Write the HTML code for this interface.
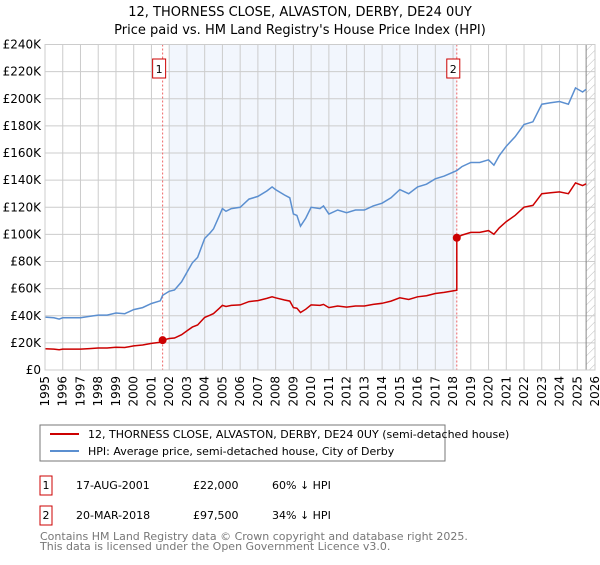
<!DOCTYPE html>
<html><head><meta charset="utf-8"><style>
body{margin:0;background:#fff;font-family:"Liberation Sans","DejaVu Sans",sans-serif}
svg text{font-family:"DejaVu Sans","Liberation Sans",sans-serif}
</style></head><body>
<svg id="c" width="600" height="560" xmlns="http://www.w3.org/2000/svg">
<text x="300" y="16" text-anchor="middle" font-size="13">12, THORNESS CLOSE, ALVASTON, DERBY, DE24 0UY</text>
<text x="300" y="34" text-anchor="middle" font-size="13">Price paid vs. HM Land Registry's House Price Index (HPI)</text>
<defs><pattern id="h" width="6" height="6" patternUnits="userSpaceOnUse" patternTransform="rotate(45)"><line x1="0" y1="0" x2="0" y2="6" stroke="#bbb" stroke-width="1"/></pattern></defs>
<g id="plot"></g>
<rect x="40" y="425" width="405" height="36" fill="#fff" stroke="#777"/>
<line x1="50" y1="434" x2="79" y2="434" stroke="#cc0000" stroke-width="2"/>
<text x="88" y="438" font-size="11">12, THORNESS CLOSE, ALVASTON, DERBY, DE24 0UY (semi-detached house)</text>
<line x1="50" y1="451" x2="79" y2="451" stroke="#5b8fd0" stroke-width="2"/>
<text x="88" y="455" font-size="11">HPI: Average price, semi-detached house, City of Derby</text>
<g font-size="11">
<rect x="40" y="476" width="12" height="19" fill="#fff" stroke="#cc0000"/>
<text x="46" y="489" text-anchor="middle">1</text>
<text x="76" y="489">17-AUG-2001</text><text x="193" y="489">£22,000</text><text x="272" y="489">60% ↓ HPI</text>
<rect x="40" y="506" width="12" height="19" fill="#fff" stroke="#cc0000"/>
<text x="46" y="519" text-anchor="middle">2</text>
<text x="76" y="519">20-MAR-2018</text><text x="193" y="519">£97,500</text><text x="272" y="519">34% ↓ HPI</text>
</g>
<text x="40" y="540" font-size="11" fill="#777">Contains HM Land Registry data © Crown copyright and database right 2025.</text>
<text x="40" y="550" font-size="11" fill="#777">This data is licensed under the Open Government Licence v3.0.</text>
</svg>
<script>
const hpiYears=[1995,1995.5,1995.8,1996,1997,1997.5,1998,1998.5,1999,1999.5,2000,2000.5,2001,2001.5,2001.63,2002,2002.3,2002.7,2003,2003.3,2003.6,2004,2004.3,2004.5,2004.8,2005,2005.2,2005.5,2006,2006.5,2007,2007.5,2007.8,2008,2008.5,2008.8,2009,2009.2,2009.4,2009.7,2010,2010.5,2010.7,2011,2011.5,2012,2012.5,2013,2013.5,2014,2014.5,2015,2015.5,2016,2016.5,2017,2017.5,2018.21,2018.5,2019,2019.5,2020,2020.3,2020.6,2021,2021.5,2022,2022.5,2023,2023.5,2024,2024.5,2024.9,2025.3,2025.5];
const hpiValues=[39,38.5,37.5,38.5,38.5,39.5,40.5,40.5,42,41.5,44.5,46,49,51,55,58,59,65,72,79,83,97,101,104,113,119,117,119,120,126,128,132,135,133,129,127,115,114,106,112,120,119,121,115,118,116,118,118,121,123,127,133,130,135,137,141,143,147,150,153,153,155,151,158,165,172,181,183,196,197,198,196,208,205,207];
const saleYears=[2001.63,2018.21];
const salePrices=[22,97.5];
const yTicks=[0,20,40,60,80,100,120,140,160,180,200,220,240];
const xTicks=[1995,1996,1997,1998,1999,2000,2001,2002,2003,2004,2005,2006,2007,2008,2009,2010,2011,2012,2013,2014,2015,2016,2017,2018,2019,2020,2021,2022,2023,2024,2025,2026];
const X0=45,X1=595,Y0=370,Y1=44.5;
const sx=y=>X0+(y-1995)/(2026-1995)*(X1-X0);
const sy=v=>Y0-v/240*(Y0-Y1);
const NS='http://www.w3.org/2000/svg';
const g=document.getElementById('plot');
function mk(t,a){const e=document.createElementNS(NS,t);for(const k in a)e.setAttribute(k,a[k]);g.appendChild(e);return e;}
let e;
e=mk('rect',{x:sx(saleYears[0])+7,y:Y1,width:sx(saleYears[1])-sx(saleYears[0])-7,height:Y0-Y1,fill:'#f2f6fd'});


e=mk('rect',{x:sx(2025.5),y:Y1,width:X1-sx(2025.5),height:Y0-Y1,fill:'url(#h)'});


yTicks.forEach(v=>{
 e=mk('line',{x1:X0,x2:X1,y1:sy(v),y2:sy(v),stroke:'#ccc'});
 
 
 e=mk('text',{x:X0-4,y:sy(v)+4,'text-anchor':'end','font-size':12});
 e.textContent=v===0?'£0':'£'+v+'K';
 
 
});
xTicks.forEach(t=>{
 e=mk('line',{x1:sx(t),x2:sx(t),y1:Y1,y2:Y0,stroke:'#ccc'});
 
 
 e=mk('text',{x:0,y:0,'text-anchor':'end','font-size':12,transform:`translate(${sx(t)+4},${Y0+6}) rotate(-90)`});
 e.textContent=t;
 
 
});
e=mk('line',{x1:sx(2025.5),x2:sx(2025.5),y1:Y1,y2:Y0,stroke:'#888'});


saleYears.forEach((s,i)=>{
 e=mk('line',{x1:sx(s),x2:sx(s),y1:Y1,y2:Y0,stroke:'#e66','stroke-dasharray':'2,2'});
 
 
});
let d=hpiYears.map((y,i)=>(i?'L':'M')+sx(y).toFixed(1)+','+sy(hpiValues[i]).toFixed(1)).join('');
e=mk('path',{d:d,fill:'none',stroke:'#5b8fd0','stroke-width':1.5});


const hpiAt=y=>{for(let i=1;i<hpiYears.length;i++){if(y<=hpiYears[i]){const f=(y-hpiYears[i-1])/(hpiYears[i]-hpiYears[i-1]);return hpiValues[i-1]+f*(hpiValues[i]-hpiValues[i-1]);}}return hpiValues[hpiValues.length-1];};
const r0=salePrices[0]/hpiAt(saleYears[0]),r1=salePrices[1]/hpiAt(saleYears[1]);
let pts=[];
hpiYears.forEach((y,i)=>{
 if(y<saleYears[1])pts.push([y,hpiValues[i]*r0]);
 if(y===saleYears[1]||(i>0&&hpiYears[i-1]<saleYears[1]&&y>saleYears[1])){pts.push([saleYears[1],hpiAt(saleYears[1])*r0]);pts.push([saleYears[1],salePrices[1]]);}
 if(y>saleYears[1])pts.push([y,hpiValues[i]*r1]);
});
d=pts.map((p,i)=>(i?'L':'M')+sx(p[0]).toFixed(1)+','+sy(p[1]).toFixed(1)).join('');
e=mk('path',{d:d,fill:'none',stroke:'#cc0000','stroke-width':1.5});


saleYears.forEach((s,i)=>{
 e=mk('circle',{cx:sx(s),cy:sy(salePrices[i]),r:4,fill:'#cc0000'});
 
 
 e=mk('rect',{x:sx(s)-10,y:59,width:13,height:19,fill:'#fff',stroke:'#cc0000'});
 
 
 e=mk('text',{x:sx(s)-3.5,y:73,'text-anchor':'middle','font-size':11});
 e.textContent=i+1;
 
 
});
e=mk('rect',{x:X0,y:Y1,width:X1-X0,height:Y0-Y1,fill:'none',stroke:'#ccc'});


</script>
</body></html>
